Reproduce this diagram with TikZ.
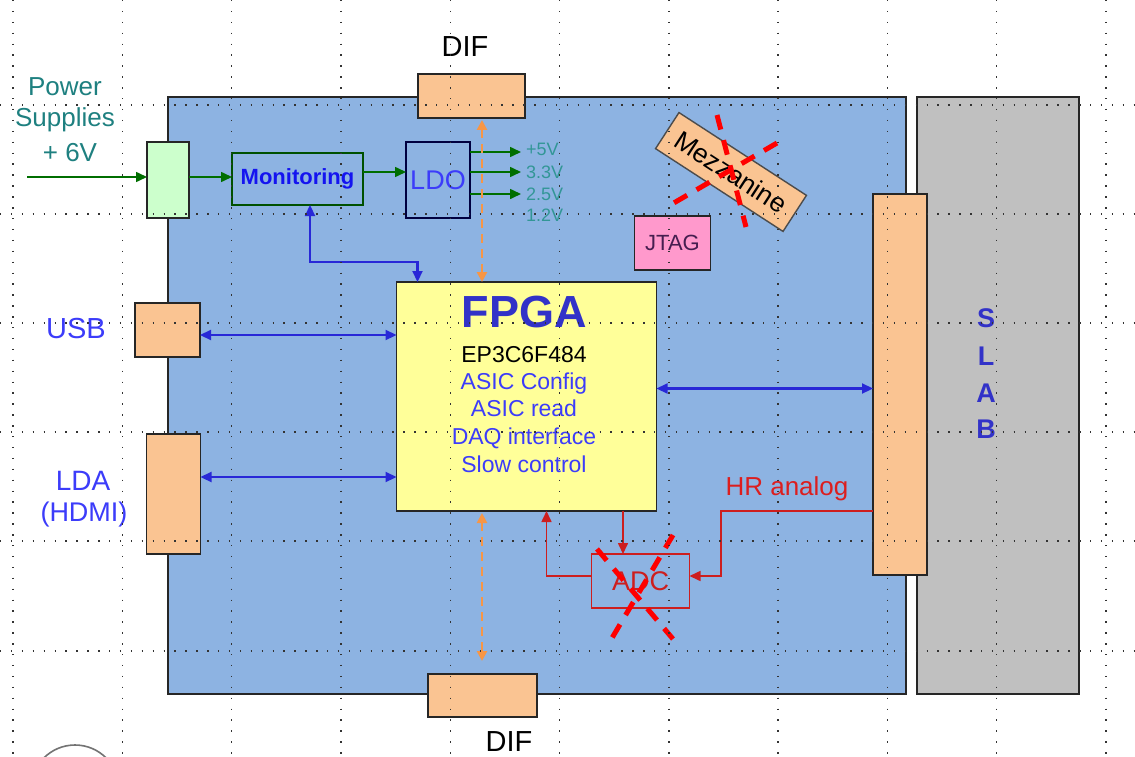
\documentclass[tikz,border=0pt]{standalone}
\usepackage{fontspec}
\setmainfont{Liberation Sans}
\usetikzlibrary{arrows.meta,calc}
\definecolor{boardblue}{RGB}{141,179,226}
\definecolor{peach}{RGB}{250,196,146}
\definecolor{slabgray}{RGB}{192,192,192}
\definecolor{fpgayellow}{RGB}{255,255,153}
\definecolor{jtagpink}{RGB}{255,153,204}
\definecolor{psgreen}{RGB}{204,255,204}
\definecolor{txtblue}{RGB}{60,60,250}
\definecolor{titleblue}{RGB}{50,50,200}
\definecolor{monblue}{RGB}{20,20,240}
\definecolor{connblue}{RGB}{40,40,215}
\definecolor{teal}{RGB}{30,128,128}
\definecolor{voltteal}{RGB}{50,150,150}
\definecolor{pwgreen}{RGB}{0,110,0}
\definecolor{mongreen}{RGB}{0,80,0}
\definecolor{adcred}{RGB}{205,30,30}
\definecolor{hrred}{RGB}{220,30,30}
\definecolor{xred}{RGB}{255,0,0}
\definecolor{orangeline}{RGB}{247,150,70}
\definecolor{jtagtxt}{RGB}{70,30,80}
\begin{document}
\begin{tikzpicture}[x=1pt,y=-1pt,
  box/.style={draw=black!85, line width=1.4pt, inner sep=0pt, outer sep=0pt},
  lbl/.style={inner sep=0pt, outer sep=0pt},
  garrow/.style={draw=pwgreen, line width=1.6pt, -{Triangle[length=11pt,width=10pt]}},
  barrow/.style={draw=connblue, line width=2.2pt, {Triangle[length=11pt,width=10pt]}-{Triangle[length=11pt,width=10pt]}},
  rarrow/.style={draw=adcred, line width=1.6pt, -{Triangle[length=11pt,width=10pt]}},
  oarrow/.style={draw=orangeline, line width=2.8pt, dash pattern=on 9pt off 6pt,
     {Triangle[length=10pt,width=10pt]}-{Triangle[length=10pt,width=10pt]}},
  redx/.style={draw=xred, line width=5pt, dash pattern=on 15pt off 11pt},
  gridline/.style={draw=black!80, line width=1.4pt, dash pattern=on 1.4pt off 9.5pt}
]
\useasboundingbox (0,0) rectangle (1135,757);
\fill[white] (0,0) rectangle (1135,757);

% board and slab
\node[box, fill=boardblue, minimum width=738pt, minimum height=597pt] (board) at (537,395.5) {};
\node[box, fill=slabgray, minimum width=162pt, minimum height=597pt] (slab) at (998,395.5) {};

% boxes
\node[box, fill=peach, minimum width=107pt, minimum height=44pt] (diftop) at (471.5,96) {};
\node[box, fill=peach, minimum width=109pt, minimum height=43pt] (difbot) at (482.5,695.5) {};
\node[box, fill=psgreen, minimum width=42pt, minimum height=76pt] (psin) at (168,180) {};
\node[box, draw=mongreen, minimum width=131pt, minimum height=52pt, text=monblue, font=\fontsize{22pt}{22pt}\selectfont\bfseries] (mon) at (297.5,179) {Monitoring};
\node[box, draw=black!75!blue, minimum width=64pt, minimum height=76pt, text=txtblue, font=\fontsize{27pt}{27pt}\selectfont] (ldo) at (438,180) {LDO};
\node[box, fill=jtagpink, minimum width=76pt, minimum height=54pt, text=jtagtxt, font=\fontsize{22pt}{22pt}\selectfont] (jtag) at (672.5,243) {JTAG};
\node[box, draw=black!70, fill=peach, minimum width=152pt, minimum height=43pt, rotate=-33, font=\fontsize{26.5pt}{26.5pt}\selectfont] (mezz) at (731,172) {Mezzanine};
\node[box, fill=fpgayellow, minimum width=260pt, minimum height=229pt] (fpga) at (526.5,396.5) {};
\node[box, fill=peach, minimum width=65pt, minimum height=54pt] (usb) at (167.5,330) {};
\node[box, fill=peach, minimum width=54pt, minimum height=120pt] (lda) at (173.5,494) {};
\node[box, fill=peach, minimum width=54pt, minimum height=381pt] (slabc) at (900,384.5) {};
\node[box, draw=adcred, minimum width=98pt, minimum height=54pt, text=adcred, font=\fontsize{27pt}{27pt}\selectfont] (adc) at (640.5,581) {ADC};

% FPGA texts
\node[lbl, text=titleblue, font=\fontsize{45pt}{45pt}\selectfont\bfseries] (fpgat) at (524,312) {FPGA};
\node[lbl, anchor=base, font=\fontsize{23pt}{23pt}\selectfont] (fl1) at (524,362) {EP3C6F484};
\node[lbl, anchor=base, text=txtblue, font=\fontsize{23pt}{23pt}\selectfont] (fl2) at (524,389) {ASIC Config};
\node[lbl, anchor=base, text=txtblue, font=\fontsize{23pt}{23pt}\selectfont] (fl3) at (524,416.5) {ASIC read};
\node[lbl, anchor=base, text=txtblue, font=\fontsize{23pt}{23pt}\selectfont] (fl4) at (524,444.5) {DAQ interface};
\node[lbl, anchor=base, text=txtblue, font=\fontsize{23pt}{23pt}\selectfont] (fl5) at (524,472) {Slow control};

% outer labels
\node[lbl, font=\fontsize{29pt}{29pt}\selectfont] (diflt) at (465,47) {DIF};
\node[lbl, font=\fontsize{29pt}{29pt}\selectfont] (diflb) at (509,742) {DIF};
\node[lbl, text=teal, font=\fontsize{26pt}{26pt}\selectfont] (pw1) at (65,87) {Power};
\node[lbl, text=teal, font=\fontsize{26pt}{26pt}\selectfont] (pw2) at (65,120) {Supplies};
\node[lbl, text=teal, font=\fontsize{26pt}{26pt}\selectfont] (pw3) at (70,153) {+ 6V};
\node[lbl, text=txtblue, font=\fontsize{29pt}{29pt}\selectfont] (usbl) at (76,329) {USB};
\node[lbl, text=txtblue, font=\fontsize{28pt}{28pt}\selectfont] (ldal1) at (83,481) {LDA};
\node[lbl, text=txtblue, font=\fontsize{27pt}{27pt}\selectfont] (ldal2) at (84,515) {(HDMI)};
\node[lbl, text=hrred, font=\fontsize{26pt}{26pt}\selectfont] (hrl) at (787,489) {HR analog};
\foreach \ch/\yy [count=\i] in {S/318,L/356,A/393,B/429}{
  \node[lbl, text=titleblue, font=\fontsize{27pt}{27pt}\selectfont\bfseries] (slab\i) at (986,\yy) {\ch};
}
\foreach \vt/\yy [count=\i] in {+5V/149,3.3V/172,2.5V/194,1.2V/215}{
  \node[lbl, anchor=west, text=voltteal, font=\fontsize{18pt}{18pt}\selectfont] (volt\i) at (526,\yy) {\vt};
}

% power connectors
\coordinate (pin) at (27,177);
\draw[garrow] (pin) -- (pin -| psin.west);
\draw[garrow] (psin.east |- pin) -- (mon.west |- pin);
\coordinate (ml) at ($(mon.east)+(0,-7)$);
\draw[garrow] (ml) -- (ml -| ldo.west);
\coordinate (v1) at (521,152);
\coordinate (v2) at (521,172);
\coordinate (v3) at (521,194);
\draw[garrow] (ldo.east |- v1) -- (v1);
\draw[garrow] (ldo.east |- v2) -- (v2);
\draw[garrow] (ldo.east |- v3) -- (v3);

% orange DIF links
\coordinate (ox) at (482,0);
\draw[oarrow, shorten <=2pt] (diftop.south -| ox) -- (fpga.north -| ox);
\draw[oarrow, shorten <=2pt, shorten >=13pt] (fpga.south -| ox) -- (difbot.north -| ox);

% blue links
\coordinate (mfa) at ($(mon.south)+(12.5,0)$);
\coordinate (mfb) at ($(fpga.north west)+(21,0)$);
\draw[barrow] (mfa) |- ($(mfb)+(0,-20)$) -- (mfb);
\coordinate (usbA) at ($(usb.east)+(0,5)$);
\draw[barrow] (usbA) -- (usbA -| fpga.west);
\coordinate (ldaA) at ($(lda.east)+(0,-17)$);
\draw[barrow] (ldaA) -- (ldaA -| fpga.west);
\coordinate (slA) at ($(fpga.east)+(0,-8)$);
\draw[barrow] (slA) -- (slA -| slabc.west);

% red ADC links
\coordinate (hry) at (721,511);
\draw[rarrow] (slabc.west |- hry) -- (hry) |- ($(adc.east)+(0,-5)$);
\coordinate (fa) at ($(adc.north)+(-17.5,0)$);
\draw[rarrow] (fpga.south -| fa) -- (fa);
\coordinate (af) at ($(fpga.south west)+(150,0)$);
\draw[rarrow] ($(adc.west)+(0,-5)$) -| (af);

% red crosses
\draw[redx] (717,115) -- (746,227);
\draw[redx] (777,143) -- (672,204);
\draw[redx] (597,549) -- (673,639);
\draw[redx] (673,535) -- (612,638);

% partial circle bottom-left
\begin{scope}
\clip (0,0) rectangle (1135,757);
\draw[black!55, line width=1.6pt] (75,789) circle (44);
\end{scope}

% grid overlay
\foreach \gy in {105,214,323,432,541,651}{
  \draw[gridline] (0,\gy) -- (1135,\gy);
}
\foreach \k in {0,...,10}{
  \pgfmathsetmacro{\gx}{13+109.3*\k}
  \draw[gridline] (\gx,0) -- (\gx,757);
}
\end{tikzpicture}
\end{document}
